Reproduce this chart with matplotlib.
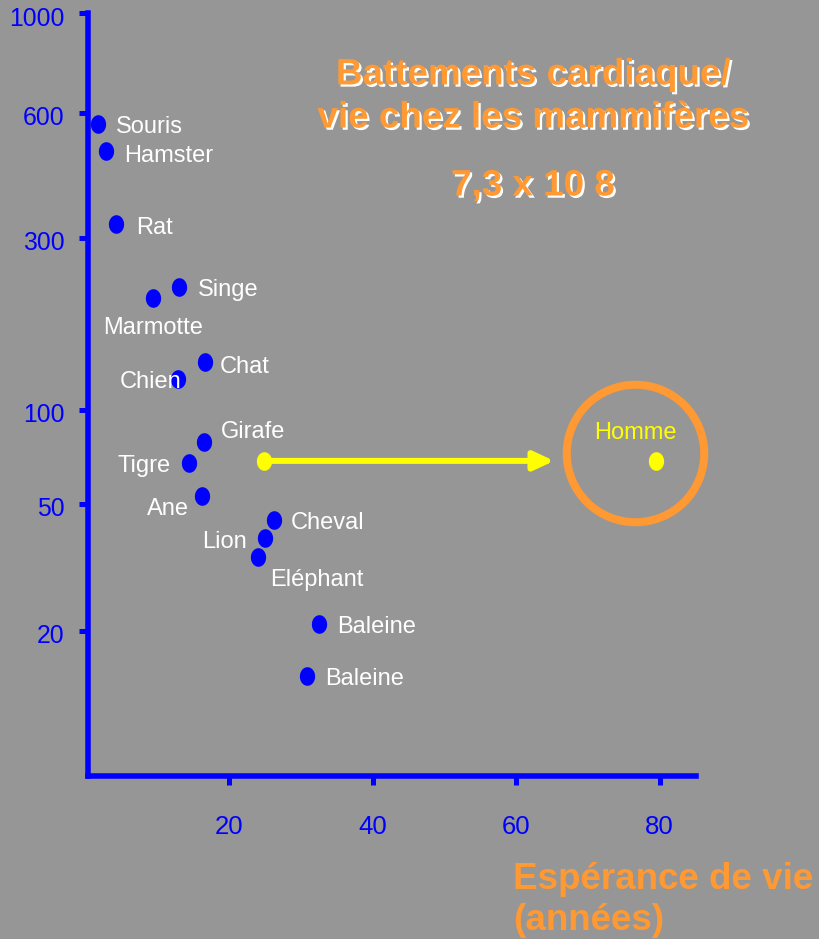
import numpy as np
import matplotlib
matplotlib.use("Agg")
import matplotlib.pyplot as plt
import matplotlib.patheffects as pe
from matplotlib.path import Path
from matplotlib.transforms import ScaledTranslation

# ---------------- data ----------------
animals = ["Souris", "Hamster", "Rat", "Singe", "Marmotte", "Chat", "Chien",
           "Girafe", "Tigre", "Ane", "Cheval", "Lion", "Eléphant",
           "Baleine", "Baleine"]
life_years = [1.8, 2.9, 4.3, 13.1, 9.4, 16.7, 12.9,
              16.5, 14.4, 16.3, 26.3, 25.0, 24.1, 32.6, 30.9]
heart_rate = [566, 486, 324, 219, 204, 136, 122,
              78.8, 67.5, 53, 44.4, 39.2, 34.0, 21.1, 14.4]

human_label = "Homme"
human_past = (24.85, 68.7)     # start of arrow
human_now = (79.5, 68.8)
arrow_end_x = 65.3
circle_center = (76.5, 72.8)

y_ticks = [20, 50, 100, 300, 600, 1000]
x_ticks = [20, 40, 60, 80]

title = "Battements cardiaque/\nvie chez les mammifères"
subtitle = "7,3 x 10 8"
xlabel_lines = ["Espérance de vie", "(années)"]

# label offsets (points) and alignment
label_offsets = [(12.7, -1.2, "left"), (13.2, -2.2, "left"), (14.4, -1.4, "left"),
                 (13.0, -0.7, "left"), (0.0, -20.0, "center"), (10.8, -2.4, "left"),
                 (2.9, -1.0, "right"), (12.0, 8.9, "left"), (-13.2, -0.5, "right"),
                 (-9.6, -7.7, "right"), (12.0, -0.7, "left"), (-13.2, -1.7, "right"),
                 (8.6, -14.9, "left"), (13.0, -1.2, "left"), (13.0, -0.4, "left")]

# ---------------- style ----------------
BG = "#969696"
BLUE = "#0000ff"
ORANGE = "#ff9933"
YELLOW = "#ffff00"
plt.rcParams["font.family"] = ["Liberation Sans", "DejaVu Sans"]

# hand-drawn slide axis: piecewise log scale anchored on the tick marks
A_log = np.log10([1, 20, 50, 100, 300, 600, 1000, 10000])
A_pos = np.array([145 - 1.301 * 319, 145, 272, 366, 538, 663, 763, 763 + 451])


def fwd(v):
    v = np.asarray(v, dtype=float)
    return np.interp(np.log10(np.clip(v, 1e-6, None)), A_log, A_pos)


def inv(h):
    h = np.asarray(h, dtype=float)
    return 10 ** np.interp(h, A_pos, A_log)


W, H = 819, 939
fig = plt.figure(figsize=(W / 100, H / 100), dpi=100)
fig.patch.set_facecolor(BG)
ax = fig.add_axes([88 / W, (H - 776) / H, (696 - 88) / W, 763 / H])
ax.set_facecolor(BG)
ax.set_yscale("function", functions=(fwd, inv))
ax.set_xlim(0.376, 85.05)
ax.set_ylim(7.02, 1000)

for s in ["top", "right"]:
    ax.spines[s].set_visible(False)
for s in ["left", "bottom"]:
    ax.spines[s].set_color(BLUE)
    ax.spines[s].set_linewidth(4)
    ax.spines[s].set_capstyle("projecting")

ax.set_yticks(y_ticks)
ax.set_yticklabels([str(t) for t in y_ticks])
ax.yaxis.set_minor_locator(matplotlib.ticker.NullLocator())
ax.set_xticks(x_ticks)
ax.set_xticklabels([str(t) for t in x_ticks])
ax.tick_params(axis="both", direction="out", length=6.5, width=3.6,
               color=BLUE, labelcolor=BLUE)
ax.tick_params(axis="y", pad=10.5, labelsize=17.8)
ax.tick_params(axis="x", pad=21.5, labelsize=18.5)
for lab in ax.get_yticklabels():
    lab.set_transform(lab.get_transform() + ScaledTranslation(0, -0.03, fig.dpi_scale_trans))

# ellipse marker
t = np.linspace(0, 2 * np.pi, 64)
ell = Path(np.column_stack([0.82 * np.cos(t), np.sin(t)]), closed=True)

ax.plot(life_years, heart_rate, linestyle="none", marker=ell, ms=13.4,
        mfc=BLUE, mec=BLUE, mew=0, zorder=3)

for name, x, y, (dx, dy, ha) in zip(animals, life_years, heart_rate, label_offsets):
    ax.annotate(name, (x, y), xytext=(dx, dy - 1.4), textcoords="offset points",
                ha=ha, va="center", color="white", fontsize=17, zorder=4)

# human
ax.plot([human_past[0], human_now[0]], [human_past[1], human_now[1]],
        linestyle="none", marker=ell, ms=13.4, mfc=YELLOW, mec=YELLOW, mew=0, zorder=3)
ax.annotate("", xy=(arrow_end_x, human_past[1]), xytext=human_past,
            arrowprops=dict(arrowstyle="-|>,head_length=12,head_width=5.6",
                            mutation_scale=1, color=YELLOW, lw=4.3,
                            shrinkA=0, shrinkB=0), zorder=2)
ax.annotate(human_label, human_now, xytext=(-15.3, 20.0), textcoords="offset points",
            ha="center", va="center", color=YELLOW, fontsize=17, zorder=4)
ax.plot([circle_center[0]], [circle_center[1]], marker="o", ms=99, mfc="none",
        mec=ORANGE, mew=5.8, linestyle="none", zorder=2, clip_on=False)

shadow = [pe.SimplePatchShadow(offset=(1.6, -1.6), shadow_rgbFace="white", alpha=1.0),
          pe.Normal()]
fig.text(533 / W, 1 - 96.5 / H, title, ha="center", va="center", color=ORANGE,
         fontsize=26.5, fontweight="bold", linespacing=1.3, path_effects=shadow)
fig.text(533 / W, 1 - 186 / H, subtitle, ha="center", va="center", color=ORANGE,
         fontsize=26.5, fontweight="bold", path_effects=shadow)

fig.text(513 / W, 1 - 889 / H, xlabel_lines[0], ha="left", va="baseline",
         color=ORANGE, fontsize=26.5, fontweight="bold")
fig.text(513 / W, 1 - 930 / H, xlabel_lines[1], ha="left", va="baseline",
         color=ORANGE, fontsize=26.5, fontweight="bold")

fig.savefig("out.png", dpi=100, facecolor=BG)
